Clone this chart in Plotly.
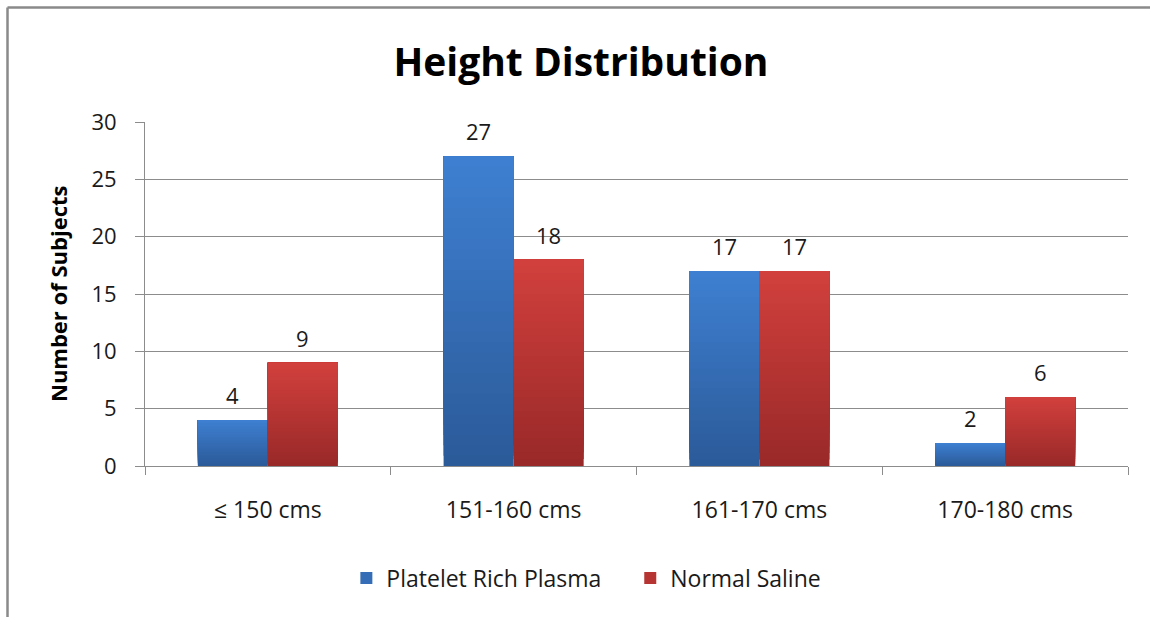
import plotly.graph_objects as go

# Height groups and subject counts per treatment arm
categories = ["≤ 150 cms", "151-160 cms", "161-170 cms", "170-180 cms"]
prp_counts = [4, 27, 17, 2]
saline_counts = [9, 18, 17, 6]
y_ticks = [0, 5, 10, 15, 20, 25, 30]

series = [
    # name, values, top colour, bottom colour, bar offset, label shift (px)
    ("Platelet Rich Plasma", prp_counts, (62, 128, 210), (43, 90, 152), -0.285, -35),
    ("Normal Saline", saline_counts, (210, 64, 61), (152, 41, 40), 0.0, 35),
]
BAR_W = 0.285
N_BANDS = 30
FONT = "'Open Sans', sans-serif"
TEXT = "#1a1a1a"

fig = go.Figure()


def mix(c1, c2, t):
    return "rgb({},{},{})".format(*[round(a + (b - a) * t) for a, b in zip(c1, c2)])


annotations = []
for i, (name, vals, top, bottom, off, shift) in enumerate(series):
    # spacing after the first legend entry
    legend_name = name + ("\u00a0" * 4 if i == 0 else "")
    # vertical gradient: each band reaches the bar top, later bands cover earlier ones
    for k in range(N_BANDS):
        t = 1 - (k + 0.5) / N_BANDS
        fig.add_trace(go.Bar(
            x=categories,
            y=[v * (N_BANDS - k) / N_BANDS for v in vals],
            base=[v * k / N_BANDS for v in vals],
            offset=off, width=BAR_W,
            marker=dict(color=mix(top, bottom, t), line=dict(width=0)),
            name=legend_name, legendgroup=name,
            showlegend=(k == N_BANDS // 2),
            hovertemplate="%{x}: " + "%{customdata}<extra>" + name + "</extra>",
            customdata=vals,
        ))
    # value labels above each bar
    for c, v in zip(categories, vals):
        annotations.append(dict(
            x=c, y=v, xref="x", yref="y", text=str(v), showarrow=False,
            xshift=shift, yshift=25, xanchor="center", yanchor="middle",
            font=dict(family=FONT, size=22, color=TEXT)))

annotations.append(dict(
    text="<b>Number of Subjects</b>", textangle=-90,
    x=(58 - 145) / 983, y=0.5, xref="paper", yref="paper",
    showarrow=False, xanchor="center", yanchor="middle",
    font=dict(family=FONT, size=22, color="black")))

frame_l = (7.5 - 145) / 983
frame_t = (466 - 7.5) / 344

fig.update_layout(
    barmode="overlay",
    width=1150, height=617,
    margin=dict(l=145, r=22, t=122, b=151),
    paper_bgcolor="white", plot_bgcolor="white",
    font=dict(family=FONT, size=22, color=TEXT),
    title=dict(text="<b>Height Distribution</b>", x=0.4435, xref="paper",
               y=1 - 62 / 617, yanchor="middle", xanchor="center",
               font=dict(family=FONT, size=39, color="black")),
    legend=dict(orientation="h", x=0.449, xanchor="center", y=-0.326,
                yanchor="middle", font=dict(family=FONT, size=23, color=TEXT),
                itemwidth=30, traceorder="normal", tracegroupgap=0),
    xaxis=dict(type="category", showline=True, linecolor="#8c8c8c", linewidth=1,
               ticks="outside", tickson="boundaries", ticklen=8, tickcolor="#8c8c8c",
               showgrid=False, ticklabelstandoff=23,
               tickfont=dict(family=FONT, size=23, color=TEXT)),
    yaxis=dict(range=[0, 30], tickvals=y_ticks, showline=True, linecolor="#8c8c8c",
               linewidth=1, ticks="outside", ticklen=9, tickcolor="#8c8c8c",
               showgrid=True, gridcolor="#8c8c8c", gridwidth=1, zeroline=False,
               ticklabelstandoff=14,
               tickfont=dict(family=FONT, size=22, color=TEXT)),
    annotations=annotations,
    shapes=[
        # chart frame (top and left edges fall inside the page)
        dict(type="line", xref="paper", yref="paper",
             x0=frame_l, x1=(1152 - 145) / 983, y0=frame_t, y1=frame_t,
             line=dict(color="#8a8a8a", width=2.5)),
        dict(type="line", xref="paper", yref="paper",
             x0=frame_l, x1=frame_l, y0=frame_t, y1=(466 - 620) / 344,
             line=dict(color="#8a8a8a", width=2.5)),
    ],
)

fig.write_html("out.html")
